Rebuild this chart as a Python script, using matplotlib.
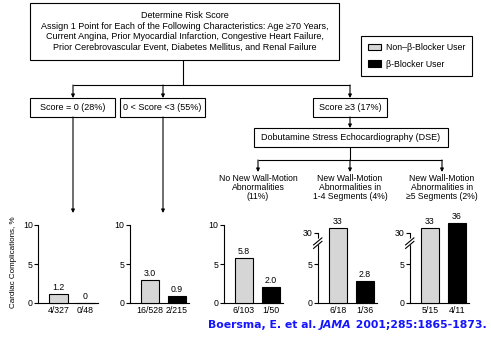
import numpy as np
import matplotlib.pyplot as plt
from matplotlib.patches import Rectangle, Patch

W, H = 491, 337
plt.rcParams['font.family'] = ['Liberation Sans', 'DejaVu Sans']

# data
top_text = ('Determine Risk Score\n'
            'Assign 1 Point for Each of the Following Characteristics: Age \u226570 Years,\n'
            'Current Angina, Prior Myocardial Infarction, Congestive Heart Failure,\n'
            'Prior Cerebrovascular Event, Diabetes Mellitus, and Renal Failure')
score_groups = ['Score = 0 (28%)', '0 < Score <3 (55%)', 'Score \u22653 (17%)']
dse_label = 'Dobutamine Stress Echocardiography (DSE)'
dse_groups = ['No New Wall-Motion\nAbnormalities\n(11%)',
              'New Wall-Motion\nAbnormalities in\n1-4 Segments (4%)',
              'New Wall-Motion\nAbnormalities in\n\u22655 Segments (2%)']
non_bb = [1.2, 3.0, 5.8, 33, 33]
bb = [0, 0.9, 2.0, 2.8, 36]
non_bb_n = ['4/327', '16/528', '6/103', '6/18', '5/15']
bb_n = ['0/48', '2/215', '1/50', '1/36', '4/11']
broken = [False, False, False, True, True]
series_names = ['Non\u2013\u03b2-Blocker User', '\u03b2-Blocker User']
gray = '#d6d6d6'


def fmt(v):
    if v == 0:
        return '0'
    return f'{v:.0f}' if v >= 10 else f'{v:.1f}'


fig = plt.figure(figsize=(W / 100, H / 100), dpi=100)
ax0 = fig.add_axes([0, 0, 1, 1])
ax0.set_xlim(0, W)
ax0.set_ylim(H, 0)
ax0.axis('off')

lw = 0.8
fs = 6.5


def box(x0, y0, x1, y1, text, size=fs):
    ax0.add_patch(Rectangle((x0, y0), x1 - x0, y1 - y0, fill=False, ec='black', lw=lw))
    ax0.text((x0 + x1) / 2, (y0 + y1) / 2, text, ha='center', va='center',
             fontsize=size, linespacing=1.2)


def line(xs, ys):
    ax0.plot(xs, ys, color='black', lw=lw, solid_capstyle='butt')


def arrow(x, y0, y1):
    ax0.annotate('', xy=(x, y1), xytext=(x, y0),
                 arrowprops=dict(arrowstyle='-|>', lw=lw, color='black',
                                 mutation_scale=5, shrinkA=0, shrinkB=0))


# flowchart
box(30, 3, 339, 60, top_text)
line([183, 183], [60, 85])
line([73, 350], [85, 85])
for x in (73, 163, 350):
    arrow(x, 85, 98)
box(30, 98, 115, 117, score_groups[0])
box(120, 98, 205, 117, score_groups[1])
box(313, 98, 387, 117, score_groups[2])
arrow(350, 117, 128)
box(254, 128, 448, 147, dse_label)
line([350, 350], [147, 160])
line([258, 442], [160, 160])
for x, t in zip((258, 350, 442), dse_groups):
    arrow(x, 160, 172)
    ax0.text(x, 174, t, ha='center', va='top', fontsize=6.2, linespacing=1.0)
arrow(73, 117, 213)
arrow(163, 117, 213)

# bar charts
fwd = lambda v: np.interp(v, [0, 7, 30, 40], [0, 7, 9, 11.1])
inv = lambda y: np.interp(y, [0, 7, 9, 11.1], [0, 7, 30, 40])
centers = [58.5, 150, 244, 338, 430]
unit = 27
for i, cx in enumerate(centers):
    top = 233 if broken[i] else 225
    left = cx - 0.75 * unit
    ax = fig.add_axes([left / W, 1 - 303 / H, 2.2 * unit / W, (303 - top) / H])
    ax.set_xlim(-0.75, 1.45)
    if broken[i]:
        ax.set_yscale('function', functions=(fwd, inv))
        ax.set_ylim(0, 30)
        ax.set_yticks([0, 5, 30])
    else:
        ax.set_ylim(0, 10)
        ax.set_yticks([0, 5, 10])
    ax.set_facecolor('none')
    b1 = ax.bar(0, non_bb[i], width=0.7, color=gray, ec='black', lw=lw, clip_on=False, zorder=3)
    b2 = ax.bar(1, bb[i], width=0.7, color='black', ec='black', lw=lw, clip_on=False, zorder=3)
    for bars, v in ((b1, non_bb[i]), (b2, bb[i])):
        ax.bar_label(bars, labels=[fmt(v)], padding=1.5, fontsize=6.3,
                     annotation_clip=False)
    ax.set_xticks([0, 1], [non_bb_n[i], bb_n[i]])
    ax.tick_params(axis='x', length=0, labelsize=6.3, pad=2)
    ax.tick_params(axis='y', length=3, width=lw, labelsize=6.3, pad=1)
    for s in ('top', 'right'):
        ax.spines[s].set_visible(False)
    for s in ('left', 'bottom'):
        ax.spines[s].set_linewidth(lw)
    if broken[i]:
        yb, d, dy, g = 0.83, 0.07, 0.05, 0.05
        ax.fill([-d, d, d, -d], [yb - dy, yb + dy, yb + dy + g, yb + g],
                color='white', transform=ax.transAxes, clip_on=False, zorder=4)
        for off in (0, g):
            ax.plot([-d, d], [yb - dy + off, yb + dy + off], color='black', lw=lw,
                    transform=ax.transAxes, clip_on=False, zorder=5)

ax0.text(14, 262, 'Cardiac Complications, %', rotation=90, ha='center', va='center',
         fontsize=5.8)

leg = fig.legend(handles=[Patch(fc=gray, ec='black', lw=lw, label=series_names[0]),
                          Patch(fc='black', ec='black', lw=lw, label=series_names[1])],
                 loc='upper left', bbox_to_anchor=(361 / W, 1 - 36 / H), fancybox=False,
                 edgecolor='black', framealpha=1, fontsize=6.3, handlelength=1.5,
                 handleheight=0.8, labelspacing=0.9, borderpad=0.8, handletextpad=0.5,
                 borderaxespad=0)
leg.get_frame().set_linewidth(lw)

# citation
r = fig.canvas.get_renderer()
x = 208
for s, style in (('Boersma, E. et al. ', 'normal'), ('JAMA', 'italic'),
                 (' 2001;285:1865-1873.', 'normal')):
    t = ax0.text(x, 325, s, ha='left', va='center', fontsize=7.8, fontweight='bold',
                 style=style, color='#1414ff', family='DejaVu Sans')
    x += t.get_window_extent(r).width

fig.savefig('out.png', dpi=100)
